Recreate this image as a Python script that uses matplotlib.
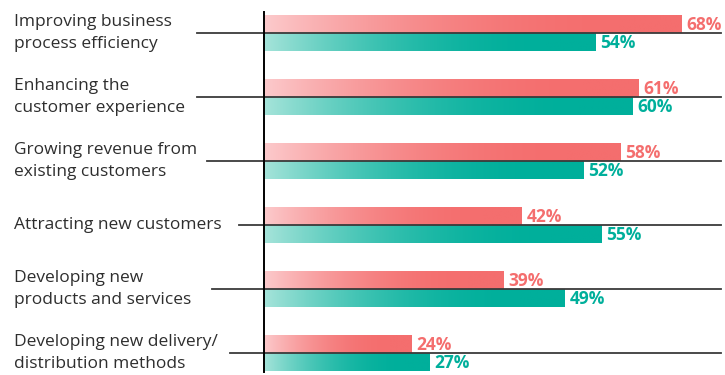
"""Horizontal paired bar chart with gradient fills"""

import matplotlib.pyplot as plt
import numpy as np
from matplotlib.colors import to_rgb
from matplotlib.transforms import blended_transform_factory

categories = [
    "Improving business\nprocess efficiency",
    "Enhancing the\ncustomer experience",
    "Growing revenue from\nexisting customers",
    "Attracting new customers",
    "Developing new\nproducts and services",
    "Developing new delivery/\ndistribution methods",
]
red_values = [68, 61, 58, 42, 39, 24]
teal_values = [54, 60, 52, 55, 49, 27]

# where each separator line starts (figure pixels)
line_starts = [197, 197, 207, 239, 212, 230]

RED = "#F46E6E"
RED_LIGHT = "#FCCACC"
TEAL = "#00AF9B"
TEAL_LIGHT = "#A6E4DA"

W, H = 725, 375
BAR_H = 18 / 64

plt.rcParams["font.family"] = ["Open Sans", "DejaVu Sans"]

fig = plt.figure(figsize=(W / 100, H / 100), dpi=100)
ax = fig.add_axes([264 / W, 0, 1 - 264 / W, 1])
ax.set_axis_off()


def gradient_bar(ax, y0, y1, value, light, full):
    """Draws one bar from 0 to value, fading from light to full colour."""
    t = np.linspace(0, 1, 256)
    w = 1 - (1 - np.clip(t / 0.85, 0, 1)) ** 2
    c0 = np.array(to_rgb(light))
    c1 = np.array(to_rgb(full))
    img = c0[None, :] + (c1 - c0)[None, :] * w[:, None]
    ax.imshow(img[None, :, :], extent=(0, value, y1, y0), aspect="auto",
              interpolation="bilinear", zorder=2)


for i, (rv, tv) in enumerate(zip(red_values, teal_values)):
    gradient_bar(ax, i - BAR_H, i, rv, RED_LIGHT, RED)
    gradient_bar(ax, i, i + BAR_H, tv, TEAL_LIGHT, TEAL)
    ax.text(rv + 0.8, i - BAR_H / 2 + 0.02, f"{rv}%", color=RED,
            fontsize=12.5, fontweight="bold", va="center", ha="left")
    ax.text(tv + 0.8, i + BAR_H / 2 + 0.02, f"{tv}%", color=TEAL,
            fontsize=12.5, fontweight="bold", va="center", ha="left")

ax.set_xlim(0, (W - 264) / 6.14)
ax.set_ylim((H - 33) / 64, -33 / 64)

# vertical axis line
ax.plot([0, 0], [-21 / 64, (372 - 33) / 64], color="black", lw=1.4,
        zorder=4, clip_on=False)

# labels and separator lines
tr = blended_transform_factory(fig.transFigure, ax.transData)
for i, label in enumerate(categories):
    fig.text(14 / W, i, label, transform=tr, fontsize=12.5, color="#2e2e2e",
             va="center", ha="left", linespacing=1.52)
    ax.plot([line_starts[i] / W, 721 / W], [i, i], transform=tr,
            color="#3a3a3a", lw=1.3, zorder=3, clip_on=False)

fig.savefig("out.png", dpi=100)
